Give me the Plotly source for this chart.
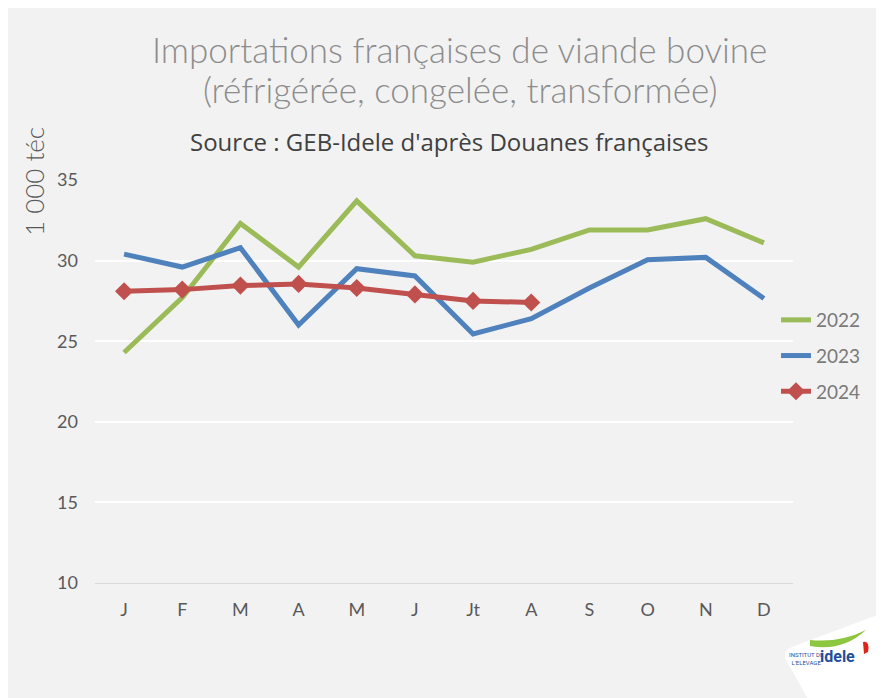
import plotly.graph_objects as go

months = ["J", "F", "M", "A", "M ", "J ", "Jt", "A ", "S", "O", "N", "D"]
tick_labels = ["J", "F", "M", "A", "M", "J", "Jt", "A", "S", "O", "N", "D"]
v2022 = [24.3, 27.7, 32.3, 29.6, 33.7, 30.3, 29.9, 30.7, 31.9, 31.9, 32.6, 31.1]
v2023 = [30.4, 29.6, 30.8, 26.0, 29.5, 29.05, 25.45, 26.4, 28.3, 30.05, 30.2, 27.65]
v2024 = [28.1, 28.2, 28.45, 28.55, 28.3, 27.9, 27.5, 27.4]

W, H = 884, 698
OFF = 8  # page body margin
L, R, T, B = 95 - OFF, 884 - (793 - OFF), 180 - OFF, 698 - (583 - OFF)

fig = go.Figure()
fig.add_trace(go.Scatter(x=months, y=v2022, name="2022", mode="lines", legendgroup="a",
                         line=dict(color="#9bbb59", width=5)))
fig.add_trace(go.Scatter(x=months, y=v2023, name="2023", mode="lines", legendgroup="b",
                         line=dict(color="#4f81bd", width=5)))
fig.add_trace(go.Scatter(x=months[:len(v2024)], y=v2024, name="2024", mode="lines+markers",
                         legendgroup="c",
                         line=dict(color="#c0504d", width=5),
                         marker=dict(symbol="diamond", size=14, color="#c0504d")))

def px_x(px):
    return (px - OFF - L) / (W - L - R)

def px_y(py):
    return (H - B - (py - OFF)) / (H - T - B)

fig.update_layout(
    width=W, height=H,
    margin=dict(l=L, r=R, t=T, b=B),
    paper_bgcolor="#f2f2f2", plot_bgcolor="#f2f2f2",
    font=dict(family="Lato", color="#595959", size=17),
    showlegend=True,
    legend=dict(x=px_x(776), y=px_y(301), xanchor="left", yanchor="top",
                font=dict(size=19, color="#7a7a7a"), bgcolor="rgba(0,0,0,0)",
                itemwidth=30, tracegroupgap=8),
    xaxis=dict(type="category", categoryorder="array", categoryarray=months,
               tickmode="array", tickvals=months, ticktext=tick_labels,
               showgrid=False, zeroline=False, showline=True, linecolor="#d9d9d9",
               linewidth=1, ticks="", tickfont=dict(size=18, color="#595959"),
               ticklabelstandoff=10, range=[-0.5, 11.5]),
    yaxis=dict(range=[10, 35], tickvals=[10, 15, 20, 25, 30, 35],
               showgrid=True, gridcolor="#ffffff", gridwidth=2, zeroline=False,
               showline=False, ticks="", tickfont=dict(size=18, color="#595959"),
               ticklabelstandoff=16),
)

title_font = dict(family="Lato", size=35, color="#8c8c8c", weight=300)
fig.add_annotation(text="Importations françaises de viande bovine",
                   xref="paper", yref="paper", x=px_x(460), y=px_y(49),
                   xanchor="center", yanchor="middle", showarrow=False, font=title_font)
fig.add_annotation(text="(réfrigérée, congelée, transformée)",
                   xref="paper", yref="paper", x=px_x(460), y=px_y(89),
                   xanchor="center", yanchor="middle", showarrow=False, font=title_font)
fig.add_annotation(text="Source : GEB-Idele d'après Douanes françaises",
                   xref="paper", yref="paper", x=px_x(449), y=px_y(141),
                   xanchor="center", yanchor="middle", showarrow=False,
                   font=dict(family="Open Sans", size=24, color="#404040"))
fig.add_annotation(text="1 000 téc", textangle=-90,
                   xref="paper", yref="paper", x=px_x(34), y=px_y(181),
                   xanchor="center", yanchor="middle", showarrow=False,
                   font=dict(family="Lato", size=26, color="#595959", weight=300))

# logo
fig.add_shape(type="path", xref="paper", yref="paper",
              path=(f"M {px_x(812)} {px_y(706)} L {px_x(786)} {px_y(660)} "
                    f"Q {px_x(782)} {px_y(651)} {px_x(792)} {px_y(647)} "
                    f"L {px_x(872)} {px_y(617)} Q {px_x(892)} {px_y(610)} {px_x(892)} {px_y(625)} "
                    f"L {px_x(892)} {px_y(706)} Z"),
              fillcolor="#ffffff", line=dict(width=0), layer="below")
fig.add_shape(type="path", xref="paper", yref="paper",
              path=(f"M {px_x(810)} {px_y(646)} Q {px_x(842)} {px_y(652)} {px_x(866)} {px_y(630)} "
                    f"Q {px_x(840)} {px_y(643)} {px_x(810)} {px_y(640)} Z"),
              fillcolor="#8dc63f", line=dict(width=0))
fig.add_shape(type="path", xref="paper", yref="paper",
              path=(f"M {px_x(863)} {px_y(642)} Q {px_x(870)} {px_y(640)} {px_x(868)} {px_y(652)} "
                    f"L {px_x(864)} {px_y(654)} Z"),
              fillcolor="#e2231a", line=dict(width=0))
fig.add_annotation(text="<b>idele</b>", xref="paper", yref="paper",
                   x=px_x(857), y=px_y(668), showarrow=False,
                   font=dict(family="Roboto", size=16, color="#1f4e9a"))
fig.add_annotation(text="INSTITUT DE<br>L'ELEVAGE", xref="paper", yref="paper",
                   x=px_x(826), y=px_y(668), showarrow=False,
                   font=dict(family="Roboto", size=6, color="#1f4e9a"))

fig.write_html("out.html")
